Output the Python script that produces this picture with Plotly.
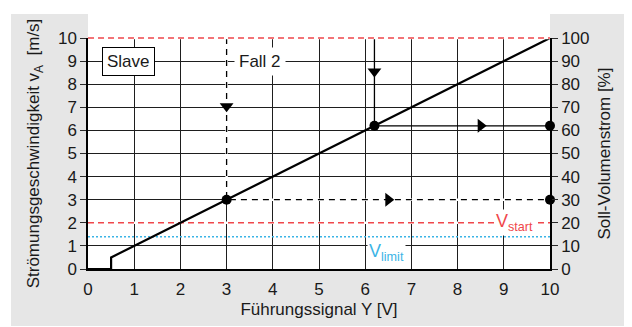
import plotly.graph_objects as go

# ---- data ----
signal_x = [0, 0.5, 0.5, 10]          # Führungssignal Y [V]
flow_v = [0, 0, 0.5, 10]              # Strömungsgeschwindigkeit [m/s]
v_nom = 10
v_start = 2
v_limit = 1.4
case2_x = [3, 3, 10]                  # Fall 2 (dashed)
case2_y = [10, 3, 3]
case1_x = [6.2, 6.2, 10]              # solid case
case1_y = [10, 6.2, 6.2]
arrow_down_x = [3, 6.2]
arrow_down_y = [7.05, 8.55]
arrow_right_x = [6.5, 8.5]
arrow_right_y = [3, 6.2]
dot_x = [3, 10, 6.2, 10]
dot_y = [3, 3, 6.2, 6.2]
x_ticks = list(range(0, 11))
y_ticks = list(range(0, 11))
y2_ticks = list(range(0, 101, 10))
y_range = [0, 10]

FONT = "Liberation Sans, Arial, sans-serif"
RED = "#f0474b"
BLUE = "#3bb4e6"

fig = go.Figure()

# white underlays so dashed lines have white gaps over the grid
fig.add_trace(go.Scatter(x=[0, 10], y=[v_start, v_start], mode="lines",
                         line=dict(color="white", width=2.5), hoverinfo="skip", showlegend=False))
fig.add_trace(go.Scatter(x=case2_x, y=case2_y, mode="lines",
                         line=dict(color="white", width=2.5), hoverinfo="skip", showlegend=False))

# reference lines
fig.add_trace(go.Scatter(x=[0, 10], y=[v_start, v_start], mode="lines",
                         line=dict(color=RED, width=1.5, dash="6px,4px"), showlegend=False))
fig.add_trace(go.Scatter(x=[0, 10], y=[v_limit, v_limit], mode="lines",
                         line=dict(color=BLUE, width=1.5, dash="2px,2px"), showlegend=False))

# case paths
fig.add_trace(go.Scatter(x=case2_x, y=case2_y, mode="lines",
                         line=dict(color="black", width=1.3, dash="6px,5px"), showlegend=False))
fig.add_trace(go.Scatter(x=case1_x, y=case1_y, mode="lines",
                         line=dict(color="black", width=1.3), showlegend=False))

# main characteristic
fig.add_trace(go.Scatter(x=signal_x, y=flow_v, mode="lines",
                         line=dict(color="black", width=2.2), showlegend=False, cliponaxis=False))

# markers
fig.add_trace(go.Scatter(x=arrow_down_x, y=arrow_down_y, mode="markers",
                         marker=dict(symbol="triangle-down", size=12, color="black"),
                         showlegend=False, cliponaxis=False))
fig.add_trace(go.Scatter(x=arrow_right_x, y=arrow_right_y, mode="markers",
                         marker=dict(symbol="triangle-right", size=12, color="black"),
                         showlegend=False, cliponaxis=False))
fig.add_trace(go.Scatter(x=dot_x, y=dot_y, mode="markers",
                         marker=dict(symbol="circle", size=10, color="black"),
                         showlegend=False, cliponaxis=False))

# dummy trace for right axis
fig.add_trace(go.Scatter(x=[0, 10], y=[0, 100], yaxis="y2", mode="lines",
                         line=dict(color="rgba(0,0,0,0)"), hoverinfo="skip", showlegend=False))

axis_font = dict(family=FONT, size=17, color="#1a1a1a")
v_nom_paper = (v_nom - y_range[0]) / (y_range[1] - y_range[0])

fig.update_layout(
    width=624, height=319,
    margin=dict(l=80, r=82, t=30, b=58, autoexpand=False),
    paper_bgcolor="white",
    plot_bgcolor="white",
    font=dict(family=FONT, size=17, color="#1a1a1a"),
    xaxis=dict(range=[0, 10], tickvals=x_ticks, showgrid=True, gridcolor="#1e1e1e", gridwidth=1,
               zeroline=False, showline=True, linecolor="black", linewidth=1.5,
               ticks="", tickfont=axis_font, ticklabelstandoff=4,
               title=dict(text="Führungssignal Y [V]", font=axis_font, standoff=5),
               fixedrange=True),
    yaxis=dict(range=y_range, tickvals=y_ticks, showgrid=True, gridcolor="#1e1e1e", gridwidth=1,
               zeroline=False, showline=True, linecolor="black", linewidth=1.5,
               ticks="outside", ticklen=6, tickcolor="#2a2a2a", tickfont=axis_font,
               title=dict(text="Strömungsgeschwindigkeit v<sub>A</sub>  [m/s]", font=axis_font, standoff=14),
               fixedrange=True),
    yaxis2=dict(range=[0, 100], tickvals=y2_ticks, overlaying="y", side="right", showgrid=False,
                zeroline=False, showline=True, linecolor="black", linewidth=1.5,
                ticks="outside", ticklen=6, tickcolor="#2a2a2a", tickfont=axis_font,
                title=dict(text="Soll-Volumenstrom [%]", font=axis_font, standoff=10),
                fixedrange=True),
    shapes=[
        dict(type="rect", xref="paper", yref="paper", x0=-0.1667, x1=1.1645, y0=-0.2468, y1=1.104,
             fillcolor="#e6e6e6", line=dict(width=0), layer="below"),
        dict(type="rect", xref="paper", yref="paper", x0=0, x1=1, y0=0, y1=1.12,
             fillcolor="white", line=dict(width=0), layer="below"),
        # Vnom line along the top edge (white underlay + red dashes)
        dict(type="line", xref="paper", yref="paper", x0=0, x1=1, y0=v_nom_paper, y1=v_nom_paper,
             line=dict(color="white", width=2.5), layer="above"),
        dict(type="line", xref="paper", yref="paper", x0=0, x1=1, y0=v_nom_paper, y1=v_nom_paper,
             line=dict(color=RED, width=1.6, dash="6px,4px"), layer="above"),
    ],
    annotations=[
        dict(x=0.87, y=9, xref="x", yref="y", text="Slave", showarrow=False,
             bgcolor="white", bordercolor="black", borderwidth=1, borderpad=4,
             font=dict(family=FONT, size=17, color="#1a1a1a")),
        dict(x=3.73, y=9, xref="x", yref="y", text="Fall 2", showarrow=False,
             bgcolor="white", borderpad=4,
             font=dict(family=FONT, size=17, color="#1a1a1a")),
        dict(x=8.55, y=10.72, xref="x", yref="y", text="V<sub>nom</sub>", showarrow=False,
             font=dict(family=FONT, size=18, color=RED)),
        dict(x=9.24, y=2.0, xref="x", yref="y", text="V<sub>start</sub>", showarrow=False,
             bgcolor="white", borderpad=1,
             font=dict(family=FONT, size=18, color=RED)),
        dict(x=6.47, y=0.72, xref="x", yref="y", text="V<sub>limit</sub>", showarrow=False,
             bgcolor="white", borderpad=1,
             font=dict(family=FONT, size=18, color=BLUE)),
    ],
)

fig.write_html("out.html")
